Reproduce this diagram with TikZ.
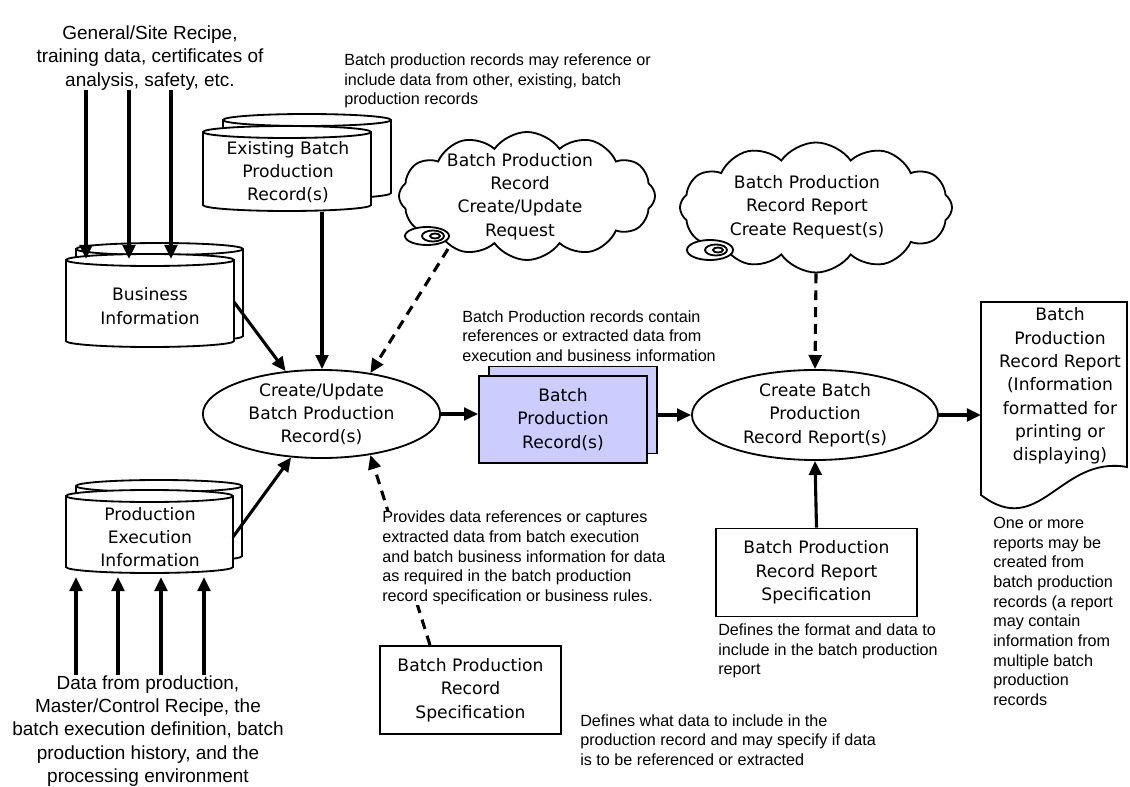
\documentclass[tikz,border=0pt]{standalone}
\usepackage{fontspec}
\setmainfont{DejaVu Sans}
\newfontfamily\notefont{Liberation Sans}
\usetikzlibrary{arrows.meta,shapes.geometric,shapes.symbols}
\definecolor{recblue}{RGB}{204,204,255}
\tikzset{
  lbl/.style={align=center,inner sep=0pt,font=\fontsize{12.2}{16.6}\selectfont},
  note/.style={align=left,inner sep=0pt,font=\notefont\fontsize{11.5}{14}\selectfont},
  bignote/.style={align=center,inner sep=0pt,font=\notefont\fontsize{13.5}{16.5}\selectfont},
  outline/.style={line width=1.3pt},
  arr/.style={line width=2.2pt,-{Triangle[length=10pt,width=9pt]}},
  dasharr/.style={arr,dash pattern=on 7pt off 5pt},
  recbox/.style={draw,outline,fill=recblue,minimum width=4.2cm,minimum height=2.175cm},
  specbox/.style={draw,outline,fill=white,minimum height=2.2cm},
  bubble/.style={cloud,draw,outline,fill=white,cloud puffs=12,cloud puff arc=110,cloud ignores aspect,inner sep=0pt},
}
% database drum: left, right, top, bottom
\newcommand{\drum}[4]{%
  \draw[outline,fill=white] (#1,#3) -- (#1,#4) arc[start angle=180,end angle=360,x radius={(#2-#1)/2},y radius=6]
    -- (#2,#3) arc[start angle=0,end angle=180,x radius={(#2-#1)/2},y radius=6] -- cycle;
  \draw[outline] (#1,#3) arc[start angle=180,end angle=360,x radius={(#2-#1)/2},y radius=6];}
\begin{document}
\begin{tikzpicture}[x=0.025cm,y=0.025cm]
\useasboundingbox (0,0) rectangle (1130,-787);

% left side: business and production data
\node[bignote] (gen) at (150,-58) {General/Site Recipe,\\training data, certificates of\\analysis, safety, etc.};
\drum{76}{243}{-249}{-336}\drum{66}{234}{-260}{-341}
\node[lbl] (biz) at (150,-306) {Business\\Information};
\coordinate (bizT) at (0,-259);
\coordinate (bizR) at (234,-302);
\foreach \x in {86,129,171} \draw[arr] (gen.south -| \x,0) -- (\x,0 |- bizT);

\drum{76}{242}{-486}{-556}\drum{66}{233}{-496}{-567}
\node[lbl] (pexec) at (150,-537) {Production\\Execution\\Information};
\coordinate (pexecB) at (0,-577);
\coordinate (pexecR) at (233,-537);
\node[bignote] (data) at (148,-731) {Data from production,\\Master/Control Recipe, the\\batch execution definition, batch\\production history, and the\\processing environment};
\foreach \x in {76,118,161,204} \draw[arr] (data.north -| \x,0) -- (\x,0 |- pexecB);

\drum{223}{391}{-120}{-193}\drum{203}{371}{-132}{-205}
\node[lbl] (exist) at (288,-172) {Existing Batch\\Production\\Record(s)};
\coordinate (existB) at (322,-212);
\node[note,anchor=west] (n1) at (344,-81) {Batch production records may reference or\\include data from other, existing, batch\\production records};

% request cloud
\node[bubble,minimum width=6.4cm,minimum height=3.2cm] (req1) at (527,-196) {};
\node[lbl] (req1t) at (520,-196.5) {Batch Production\\Record\\Create/Update\\Request};
\node[ellipse,draw,outline,fill=white,minimum width=1.1cm,minimum height=0.45cm] (tail1) at (427,-236) {};
\draw[outline] (433,-236) ellipse (11 and 5.5) (435,-236) ellipse (5 and 2.5);
\coordinate (req1B) at (448,-249);

% create / update
\node[ellipse,draw,outline,lbl,minimum width=5.93cm,minimum height=2.2cm] (upd) at (321.5,-414) {Create/Update\\Batch Production\\Record(s)};
\draw[arr] (bizR) -- (upd.130);
\draw[arr] (existB) -- (existB |- upd.north);
\draw[dasharr] (req1B) -- (upd.40);
\draw[arr] (pexecR) -- (upd.235);

% batch production records
\node[note,anchor=west] (n2) at (462,-336) {Batch Production records contain\\references or extracted data from\\execution and business information};
\node[recbox] (bprback) at (573,-410) {};
\node[recbox,lbl] (bpr) at (563,-419.5) {Batch\\Production\\Record(s)};
\draw[arr] (upd.east) -- (upd.east -| bpr.west);

\node[specbox,lbl,minimum width=4.525cm] (spec) at (470.5,-690) {Batch Production\\Record\\Specification};
\draw[dasharr] (spec.north -| 430,0) -- (upd.320);
\node[note,anchor=west,fill=white] (n3) at (382,-558) {Provides data references or captures\\extracted data from batch execution\\and batch business information for data\\as required in the batch production\\record specification or business rules.};
\node[note,anchor=west] (n4) at (580,-740) {Defines what data to include in the\\production record and may specify if data\\is to be referenced or extracted};

% report side
\node[bubble,minimum width=6.8cm,minimum height=3.25cm] (req2) at (816,-207.5) {};
\node[lbl] (req2t) at (807,-207) {Batch Production\\Record Report\\Create Request(s)};
\node[ellipse,draw,outline,fill=white,minimum width=1.15cm,minimum height=0.5cm] (tail2) at (710,-250) {};
\draw[outline] (716,-250) ellipse (11 and 5.5) (718,-250) ellipse (5 and 2.5);

\node[ellipse,draw,outline,lbl,minimum width=6.15cm,minimum height=2.25cm] (rep) at (815,-415) {Create Batch\\Production\\Record Report(s)};
\draw[arr] (bprback.east |- rep.west) -- (rep.west);
\draw[dasharr] (req2.south) -- (rep.north);

\node[specbox,lbl,minimum width=5.025cm] (rspec) at (816.5,-572.5) {Batch Production\\Record Report\\Specification};
\draw[arr] (rspec.north) -- (rep.south);
\node[note,anchor=west] (n5) at (718,-651) {Defines the format and data to\\include in the batch production\\report};

\draw[outline] (981,-302) -- (1127,-302) -- (1127,-467) .. controls (1060,-455) and (1040,-540) .. (981,-495) -- cycle;
\node[lbl] (doc) at (1060,-386) {Batch\\Production\\Record Report\\(Information\\formatted for\\printing or\\displaying)};
\coordinate (docL) at (981,-415);
\draw[arr] (rep.east) -- (docL);
\node[note,anchor=west] (n6) at (993,-611.5) {One or more\\reports may be\\created from\\batch production\\records (a report\\may contain\\information from\\multiple batch\\production\\records};
\end{tikzpicture}
\end{document}
